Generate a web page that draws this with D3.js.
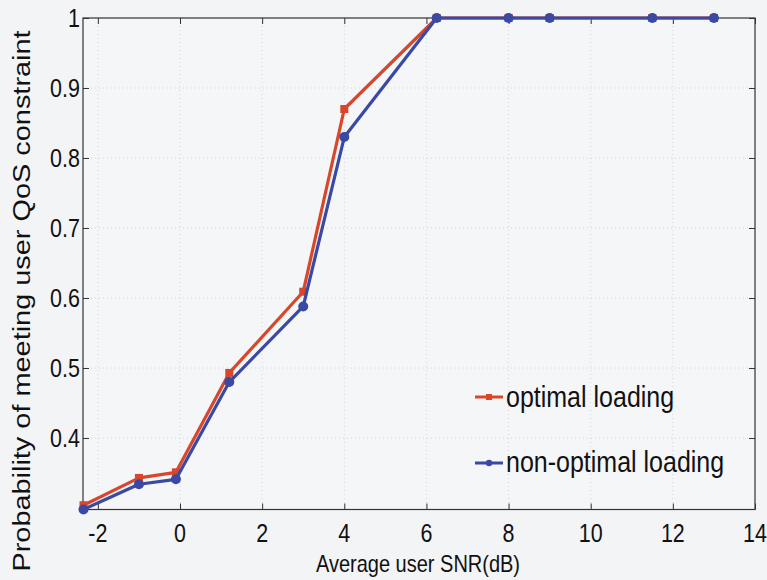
<!DOCTYPE html>
<html>
<head>
<meta charset="utf-8">
<script src="https://cdn.jsdelivr.net/npm/d3@7"></script>
<style>
  html, body { margin: 0; padding: 0; background: #f3f4f6; }
  svg { display: block; }
  text { font-family: "Liberation Sans", Arial, sans-serif; fill: #111; }
</style>
</head>
<body>
<svg id="chart" width="767" height="580"></svg>
<script>
// Average user SNR (dB) at which the probability was evaluated
const snr = [-2.35, -1, -0.1, 1.2, 3, 4, 6.25, 8, 9, 11.5, 13];
// Probability of meeting the user QoS constraint
const optimalLoading    = [0.304, 0.343, 0.351, 0.493, 0.609, 0.870, 1, 1, 1, 1, 1];
const nonOptimalLoading = [0.298, 0.334, 0.341, 0.480, 0.588, 0.830, 1, 1, 1, 1, 1];
const xTicks = [-2, 0, 2, 4, 6, 8, 10, 12, 14];
const yTicks = [0.4, 0.5, 0.6, 0.7, 0.8, 0.9, 1];
const seriesNames = ["optimal loading", "non-optimal loading"];

const svg = d3.select("#chart");
const plot = { left: 83, right: 755, top: 18, bottom: 509.5 };
const stretch = 1.2;   // vertical stretch applied to horizontal text

const x = d3.scaleLinear().domain([-2.362, 14]).range([plot.left, plot.right]);
const y = d3.scaleLinear().domain([0.2979, 1]).range([plot.bottom, plot.top]);

// plot area
svg.append("rect")
  .attr("x", plot.left).attr("y", plot.top)
  .attr("width", plot.right - plot.left).attr("height", plot.bottom - plot.top)
  .attr("fill", "#f5f6f8");

// dotted grid
const grid = svg.append("g").attr("stroke", "#d3d5da").attr("stroke-width", 1)
  .attr("stroke-dasharray", "1,3");
grid.selectAll("line.gx").data(xTicks.filter(t => t > -2.36 && t < 14)).join("line")
  .attr("x1", d => x(d)).attr("x2", d => x(d))
  .attr("y1", plot.top).attr("y2", plot.bottom);
grid.selectAll("line.gy").data(yTicks.filter(t => t < 1)).join("line")
  .attr("y1", d => y(d)).attr("y2", d => y(d))
  .attr("x1", plot.left).attr("x2", plot.right);

// axes with inward ticks on all four sides
const tickLen = 6;
const axisColor = "#333";
function styleAxis(g) {
  g.select(".domain").remove();
  g.selectAll(".tick line").attr("stroke", axisColor).attr("stroke-width", 1);
  g.selectAll(".tick text").remove();
}
svg.append("g").attr("transform", `translate(0,${plot.bottom})`)
  .call(d3.axisTop(x).tickValues(xTicks).tickSize(tickLen)).call(styleAxis);
svg.append("g").attr("transform", `translate(0,${plot.top})`)
  .call(d3.axisBottom(x).tickValues(xTicks).tickSize(tickLen)).call(styleAxis);
svg.append("g").attr("transform", `translate(${plot.left},0)`)
  .call(d3.axisRight(y).tickValues(yTicks).tickSize(tickLen)).call(styleAxis);
svg.append("g").attr("transform", `translate(${plot.right},0)`)
  .call(d3.axisLeft(y).tickValues(yTicks).tickSize(tickLen)).call(styleAxis);

svg.append("rect")
  .attr("x", plot.left).attr("y", plot.top)
  .attr("width", plot.right - plot.left).attr("height", plot.bottom - plot.top)
  .attr("fill", "none").attr("stroke", axisColor).attr("stroke-width", 1.2);

// tick labels
const fmt = d => String(d);
svg.append("g").selectAll("g").data(xTicks).join("g")
  .attr("transform", d => `translate(${x(d)},542) scale(1,${stretch})`)
  .append("text").attr("text-anchor", "middle").attr("font-size", 21.5)
  .text(d => fmt(d));
svg.append("g").selectAll("g").data(yTicks).join("g")
  .attr("transform", d => `translate(80,${y(d) + 9}) scale(1,${stretch})`)
  .append("text").attr("text-anchor", "end").attr("font-size", 21.5)
  .text(d => fmt(d));

// axis titles
svg.append("g").attr("transform", `translate(418,572) scale(1,${stretch})`)
  .append("text").attr("text-anchor", "middle").attr("font-size", 20)
  .text("Average user SNR(dB)");
svg.append("g").attr("transform", "translate(30,301) rotate(-90) scale(1.23,1)")
  .append("text").attr("text-anchor", "middle").attr("font-size", 23.5)
  .text("Probability of meeting user QoS constraint");

// series
const colors = ["#d8472b", "#3a49a3"];
const series = [optimalLoading, nonOptimalLoading].map((vals, i) => ({
  name: seriesNames[i], color: colors[i],
  points: snr.map((s, j) => [s, vals[j]])
}));
const line = d3.line().x(d => x(d[0])).y(d => y(d[1]));
const clipId = "plotclip";
svg.append("clipPath").attr("id", clipId).append("rect")
  .attr("x", plot.left - 6).attr("y", plot.top - 6)
  .attr("width", plot.right - plot.left + 12).attr("height", plot.bottom - plot.top + 12);

const sg = svg.append("g").attr("clip-path", `url(#${clipId})`);
series.forEach((s, i) => {
  sg.append("path").datum(s.points)
    .attr("fill", "none").attr("stroke", s.color).attr("stroke-width", 3.2)
    .attr("stroke-linejoin", "round")
    .attr("d", line);
  if (i === 0) {
    sg.selectAll(null).data(s.points).join("rect")
      .attr("x", d => x(d[0]) - 4).attr("y", d => y(d[1]) - 4)
      .attr("width", 8).attr("height", 8).attr("fill", s.color);
  } else {
    sg.selectAll(null).data(s.points).join("circle")
      .attr("cx", d => x(d[0])).attr("cy", d => y(d[1])).attr("r", 5)
      .attr("fill", s.color);
  }
});

// legend
const legendRows = [{ y: 397, base: 407 }, { y: 463, base: 472 }];
series.forEach((s, i) => {
  const r = legendRows[i];
  svg.append("line").attr("x1", 475).attr("x2", 503).attr("y1", r.y).attr("y2", r.y)
    .attr("stroke", s.color).attr("stroke-width", 3);
  if (i === 0) {
    svg.append("rect").attr("x", 486).attr("y", r.y - 3).attr("width", 6).attr("height", 6)
      .attr("fill", s.color);
  } else {
    svg.append("circle").attr("cx", 489).attr("cy", r.y).attr("r", 3.2).attr("fill", s.color);
  }
  svg.append("g").attr("transform", `translate(506,${r.base}) scale(1,${stretch})`)
    .append("text").attr("font-size", 25).text(s.name);
});
</script>
</body>
</html>
